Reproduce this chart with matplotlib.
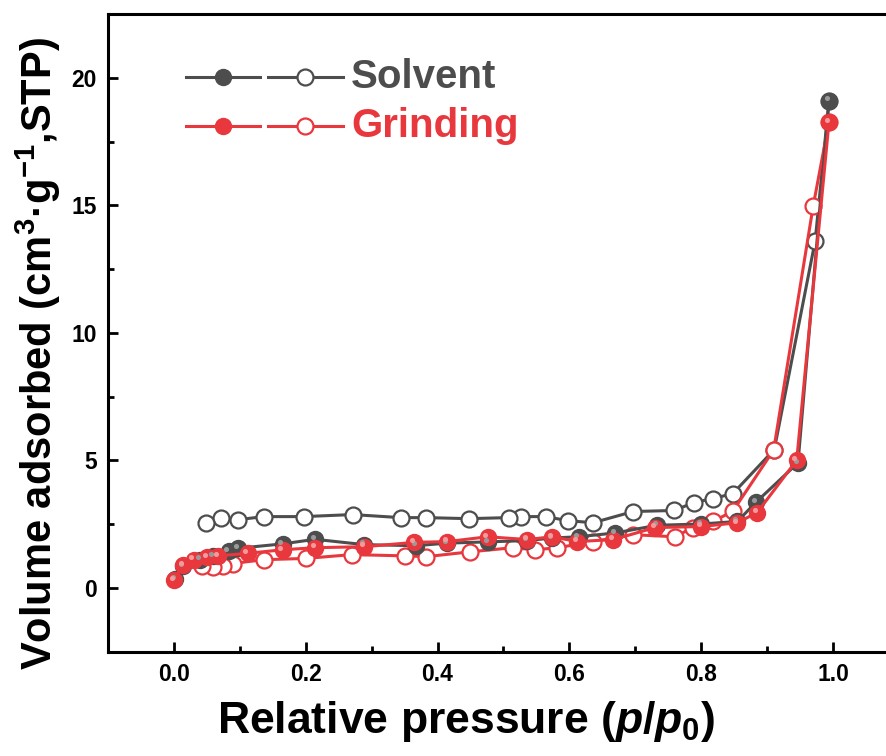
import matplotlib
matplotlib.use("Agg")
import matplotlib.pyplot as plt
from matplotlib.lines import Line2D
from matplotlib.ticker import MultipleLocator
from matplotlib.transforms import offset_copy

plt.rcParams['font.family'] = ['Liberation Sans', 'DejaVu Sans']
plt.rcParams['mathtext.fontset'] = 'custom'
plt.rcParams['mathtext.rm'] = 'Liberation Sans:bold'
plt.rcParams['mathtext.bf'] = 'Liberation Sans:bold'
plt.rcParams['mathtext.it'] = 'Liberation Sans:bold:italic'

# Solvent
solv_ads_x = [0.002, 0.014, 0.04, 0.06, 0.083, 0.098, 0.165, 0.214, 0.289, 0.367, 0.415, 0.477,
              0.536, 0.574, 0.614, 0.67, 0.733, 0.80, 0.855, 0.883, 0.947, 0.994]
solv_ads_y = [0.35, 0.85, 1.1, 1.25, 1.45, 1.55, 1.72, 1.9, 1.69, 1.65, 1.75, 1.8,
              1.85, 1.95, 2.0, 2.15, 2.45, 2.5, 2.6, 3.35, 4.9, 19.1]
solv_des_x = [0.994, 0.973, 0.911, 0.848, 0.818, 0.789, 0.759, 0.697, 0.636, 0.598, 0.564,
              0.526, 0.508, 0.447, 0.383, 0.344, 0.271, 0.197, 0.136, 0.098, 0.071, 0.048]
solv_des_y = [19.1, 13.6, 5.42, 3.69, 3.50, 3.34, 3.03, 2.99, 2.55, 2.63, 2.79,
              2.79, 2.75, 2.71, 2.75, 2.75, 2.87, 2.79, 2.79, 2.67, 2.75, 2.55]

# Grinding
grin_ads_x = [0.0, 0.014, 0.03, 0.05, 0.067, 0.112, 0.165, 0.214, 0.289, 0.365, 0.415, 0.476,
              0.536, 0.574, 0.612, 0.667, 0.73, 0.80, 0.855, 0.885, 0.945, 0.994]
grin_ads_y = [0.31, 0.9, 1.1, 1.2, 1.25, 1.35, 1.49, 1.57, 1.61, 1.78, 1.81, 2.0,
              1.89, 2.0, 1.81, 1.89, 2.36, 2.4, 2.55, 2.95, 5.0, 18.27]
grin_des_x = [0.994, 0.970, 0.91, 0.848, 0.818, 0.788, 0.76, 0.697, 0.636, 0.582, 0.548,
              0.514, 0.45, 0.383, 0.35, 0.27, 0.20, 0.136, 0.089, 0.074, 0.059, 0.042]
grin_des_y = [18.27, 14.97, 5.4, 3.0, 2.6, 2.36, 2.0, 2.08, 1.81, 1.57, 1.49,
              1.57, 1.41, 1.22, 1.25, 1.3, 1.15, 1.1, 0.95, 0.86, 0.82, 0.86]

series_names = ["Solvent", "Grinding"]
gray = "#4d4d4d"
red = "#e8373d"
gray_hl = "#9a9a9a"
red_hl = "#f59a9c"

fig = plt.figure(figsize=(8.87, 7.56), dpi=100)
ax = fig.add_axes([108/887, 1 - 651.5/756, 1 - 108/887, (651.5 - 14)/756])

ms = 11.5
lw = 2.2
hl_tr = offset_copy(ax.transData, fig=fig, x=-1.6, y=1.6, units='points')
for (ax_x, ax_y, de_x, de_y, c, hc) in [
        (solv_ads_x, solv_ads_y, solv_des_x, solv_des_y, gray, gray_hl),
        (grin_ads_x, grin_ads_y, grin_des_x, grin_des_y, red, red_hl)]:
    ax.plot(de_x, de_y, '-o', color=c, lw=lw, ms=ms, mfc='white', mec=c, mew=1.6, zorder=3)
    ax.plot(ax_x, ax_y, '-o', color=c, lw=lw, ms=ms, mfc=c, mec=c, mew=1.0, zorder=4)
    ax.plot(ax_x, ax_y, 'o', ms=ms * 0.32, mfc=hc, mec='none', transform=hl_tr, zorder=5)

ax.set_xlim(-0.1, 1.082)
ax.set_ylim(-2.5, 22.5)
ax.xaxis.set_minor_locator(MultipleLocator(0.1))
ax.yaxis.set_minor_locator(MultipleLocator(2.5))
ax.set_xticks([0.0, 0.2, 0.4, 0.6, 0.8, 1.0])
ax.set_xticklabels(["0.0", "0.2", "0.4", "0.6", "0.8", "1.0"])
ax.set_yticks([0, 5, 10, 15, 20])
ax.set_yticklabels(["0", "5", "10", "15", "20"])
ax.tick_params(which='major', direction='in', length=7, width=2, labelsize=16.5, pad=8)
ax.tick_params(which='minor', direction='in', length=4, width=2)
for lab in ax.get_xticklabels() + ax.get_yticklabels():
    lab.set_fontweight('bold')
ax.tick_params(top=False, right=False, which='both')
ax.spines['right'].set_visible(False)
for s in ['left', 'bottom', 'top']:
    ax.spines[s].set_linewidth(2.2)

ax.set_xlabel(r"Relative pressure ($p$/$p_0$)", fontsize=32, fontweight='bold')
ax.xaxis.set_label_coords((466 - 108) / 779, (651.5 - 722) / 637.5)
ax.xaxis.label.set_va('center')
ax.set_ylabel(r"Volume adsorbed (cm$^{3}$·g$^{-1}$,STP)", fontsize=30, fontweight='bold')
ax.yaxis.set_label_coords((38 - 108) / 779, (651.5 - 354) / 637.5)
ax.yaxis.label.set_va('center')

# custom legend
def tx(px):
    return (px - 108) / 779
def ty(py):
    return (651.5 - py) / 637.5

for name, c, hc, py in [(series_names[0], gray, gray_hl, 77), (series_names[1], red, red_hl, 126)]:
    ax.add_line(Line2D([tx(186), tx(260)], [ty(py), ty(py)], transform=ax.transAxes, color=c, lw=lw))
    ax.add_line(Line2D([tx(223)], [ty(py)], transform=ax.transAxes, marker='o', color=c, ms=ms, mfc=c, mec=c))
    ax.add_line(Line2D([tx(268), tx(343)], [ty(py), ty(py)], transform=ax.transAxes, color=c, lw=lw))
    ax.add_line(Line2D([tx(305)], [ty(py)], transform=ax.transAxes, marker='o', color=c, ms=ms, mfc='white', mec=c, mew=1.6))
    ax.text(tx(351), ty(py), name, transform=ax.transAxes, color=c, fontsize=29,
            fontweight='bold', va='center', ha='left')

fig.savefig("out.png", dpi=100)
